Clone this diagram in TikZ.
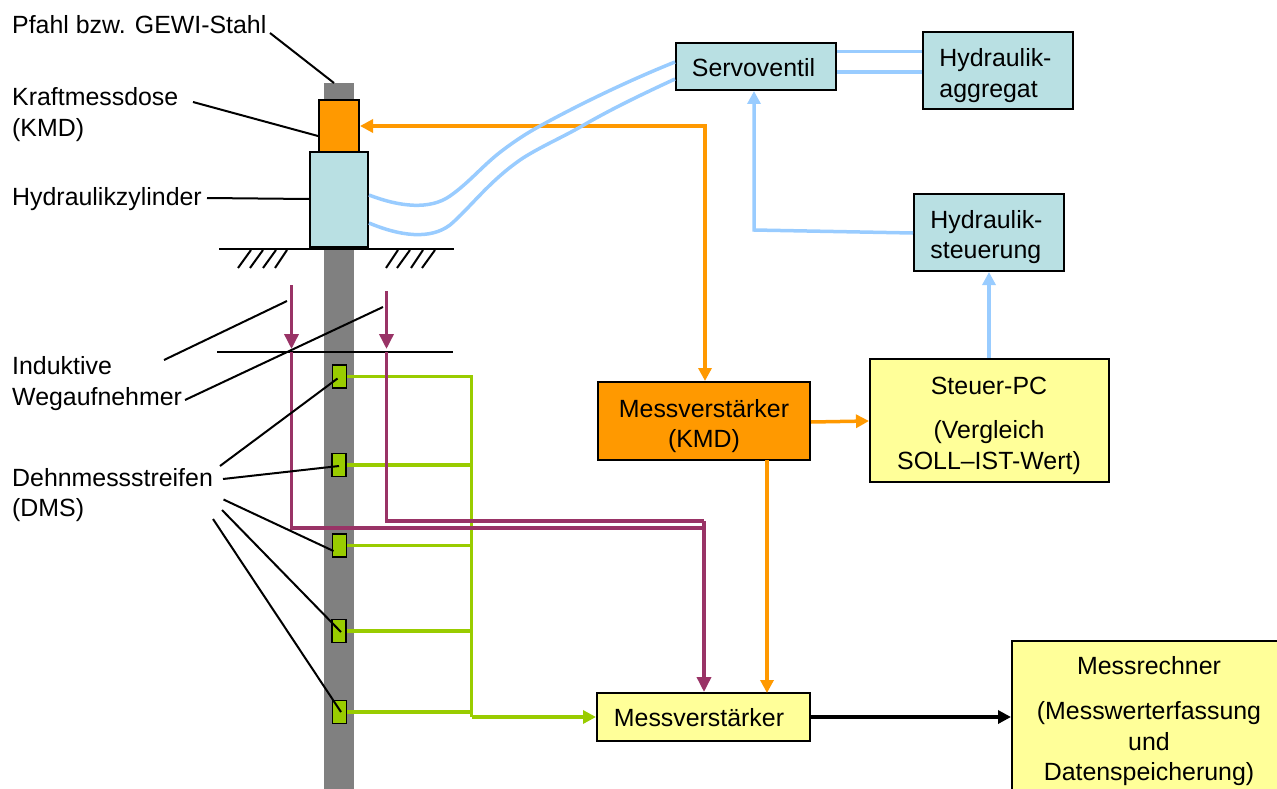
\documentclass[tikz,border=0pt]{standalone}
\usepackage{fontspec}
\setmainfont{Liberation Sans}
\usetikzlibrary{arrows.meta}
\definecolor{pile}{HTML}{808080}
\definecolor{orangeC}{HTML}{FF9900}
\definecolor{tealC}{HTML}{B9E0E3}
\definecolor{yellowC}{HTML}{FFFF99}
\definecolor{greenC}{HTML}{99CC00}
\definecolor{purpleC}{HTML}{993366}
\definecolor{blueC}{HTML}{99CCFF}
\tikzset{
  x=1pt,y=-1pt,
  txt/.style={font=\fontsize{24.9}{30.8}\selectfont,text=black,inner sep=0pt},
  lab/.style={txt,anchor=west,align=left},
  ctxt/.style={txt,align=center},
  ltxt/.style={txt,align=left},
  rbox/.style={draw=black,line width=2pt,inner sep=0pt,anchor=north west},
  tealbox/.style={rbox,fill=tealC},
  yellowbox/.style={rbox,fill=yellowC},
  orangebox/.style={rbox,fill=orangeC},
  gauge/.style={draw=black,line width=1.8pt,fill=greenC,inner sep=0pt,minimum width=14pt,minimum height=23pt},
  leader/.style={draw=black,line width=2pt},
  oline/.style={draw=orangeC,line width=3.5pt},
  gline/.style={draw=greenC,line width=3.5pt},
  pline/.style={draw=purpleC,line width=3.5pt},
  bline/.style={draw=blueC,line width=3.5pt},
  tip/.style={-{Triangle[length=13pt,width=13pt]}},
  tips/.style={{Triangle[length=13pt,width=13pt]}-{Triangle[length=13pt,width=13pt]}},
  ptip/.style={-{Triangle[length=15pt,width=14pt]}},
}
\begin{document}
\begin{tikzpicture}
\useasboundingbox (0,0) rectangle (1277,789);
% pile
\node[fill=pile,inner sep=0pt,anchor=north west,minimum width=30pt,minimum height=706pt] (pfahl) at (324,83) {};
% ground lines
\coordinate (g1a) at (219,248.5); \coordinate (g1b) at (454,248.5);
\coordinate (g2a) at (217,351.5); \coordinate (g2b) at (453,351.5);
\draw[leader] (g2a) -- (g2b);
% purple wiring points
\coordinate (pl1) at (291.5,285); \coordinate (pl2) at (291.5,349);
\coordinate (pl3) at (291.5,352); \coordinate (pl4) at (291.5,528);
\coordinate (pr1) at (386.5,291); \coordinate (pr2) at (386.5,349);
\coordinate (pr3) at (386.5,352); \coordinate (pr4) at (386.5,521);
\coordinate (pc1) at (704,521); \coordinate (pc2) at (704,528);
% boxes
\node[gauge] (d1) at (339.5,376.5) {};
\node[gauge] (d2) at (339,465) {};
\node[gauge] (d3) at (339.5,545.5) {};
\node[gauge] (d4) at (339,631) {};
\node[gauge] (d5) at (339.5,712) {};
\node[orangebox,minimum width=40pt,minimum height=52pt] (kmd) at (318,99) {};
\node[tealbox,minimum width=58pt,minimum height=95pt] (zyl) at (309,151) {};
\node[tealbox,minimum width=160pt,minimum height=47pt] (servo) at (675,42) {};
\node[tealbox,minimum width=150pt,minimum height=77pt] (aggr) at (922,31) {};
\node[tealbox,minimum width=150pt,minimum height=77pt] (steu) at (913,193) {};
\node[yellowbox,minimum width=239pt,minimum height=123pt] (pc) at (869,358) {};
\node[orangebox,minimum width=212pt,minimum height=78pt] (mvk) at (597,381) {};
\node[yellowbox,minimum width=213pt,minimum height=48pt] (mv) at (596,692) {};
\node[yellowbox,minimum width=276pt,minimum height=160pt] (mr) at (1011,640) {};
% box texts
\node[ctxt] (servoT) at (753.5,67.5) {Servoventil};
\node[ltxt] (aggrT) at (995.5,75.5) {Hydraulik-\\aggregat};
\node[ltxt] (steuT) at (986.5,237) {Hydraulik-\\steuerung};
\node[ctxt] (pcT) at (989,425.5) {Steuer-PC\\[13.5pt](Vergleich\\SOLL--IST-Wert)};
\node[ctxt] (mvkT) at (704,426) {Messverstärker\\(KMD)};
\node[ctxt] (mvT) at (699,718) {Messverstärker};
\node[ctxt] (mrT) at (1149,721.5) {Messrechner\\[13.5pt](Messwerterfassung\\und\\Datenspeicherung)};
% ground line and hatching
\draw[leader] (g1a) -- (g1b);
\foreach \xa/\xb in {251/238,263/250,276/263,287/275,398/386,410/397,423/411,435/422}
  \draw[leader] (\xa,250) -- (\xb,268);
% labels
\node[lab] (tp) at (12,25) {Pfahl bzw. GEWI-Stahl};
\node[lab] (tk) at (12,114.5) {Kraftmessdose\\(KMD)};
\node[lab] (th) at (12,199.5) {Hydraulikzylinder};
\node[lab] (ti) at (12,383.5) {Induktive\\Wegaufnehmer};
\node[lab] (td) at (12,495) {Dehnmessstreifen\\(DMS)};
% green
\coordinate (gtop) at (471.5,376.5);
\coordinate (gbot) at (471.5,717);
\draw[gline] (d1.east) -- (gtop) -- (gbot);
\draw[gline] (d2.east) -- (gtop |- d2.east);
\draw[gline] (d3.east) -- (gtop |- d3.east);
\draw[gline] (d4.east) -- (gtop |- d4.east);
\draw[gline] (d5.east) -- (gtop |- d5.east);
\draw[gline,tip] (gbot) -- (gbot -| mv.west);
% purple
\draw[pline,ptip] (pl1) -- (pl2);
\draw[pline,ptip] (pr1) -- (pr2);
\draw[pline] (pl3) -- (pl4) -- (pc2);
\draw[pline] (pr3) -- (pr4) -- (pc1);
\draw[pline,ptip] (pc1) -- (pc1 |- mv.north);
% orange
\coordinate (oc) at (705,126);
\draw[oline,tips] (kmd.east |- oc) -- (oc) -- (oc |- mvk.north);
\draw[oline,tip] (mvk.east |- 0,422) -- (pc.west |- 0,421);
\draw[oline,tip] (767,460) -- (767,693);
% black
\draw[line width=3.5pt,tip] (mv.east |- 0,717) -- (mr.west |- 0,717);
% blue
\draw[bline] (zyl.east |- 0,195) .. controls (400,207) and (430,210) .. (450,196) .. controls (470,182) and (483,165) .. (503,150) .. controls (515,141) and (527,133) .. (540,126) .. controls (580,104) and (630,80) .. (servo.west |- 0,62);
\draw[bline] (zyl.east |- 0,223) .. controls (400,236) and (430,240) .. (450,225) .. controls (470,208) and (490,180) .. (523,158) .. controls (542,146) and (563,137) .. (582,126) .. controls (615,107) and (645,93) .. (servo.west |- 0,79);
\draw[bline] (servo.east |- 0,51.5) -- (aggr.west |- 0,51.5);
\draw[bline] (servo.east |- 0,72) -- (aggr.west |- 0,72);
\coordinate (bc) at (754,230);
\draw[bline,tip] (steu.west |- 0,233) -- (bc) -- (bc |- servo.south);
\draw[bline,tip] (pc.north -| 989,0) -- (989,0 |- steu.south);
% leaders
\coordinate (l1) at (270,33); \coordinate (l2) at (193,102); \coordinate (l3) at (207,198);
\coordinate (l4) at (164,360); \coordinate (l4b) at (287,301);
\coordinate (l5) at (185,400); \coordinate (l5b) at (383,307);
\coordinate (l6) at (220,466); \coordinate (l7) at (223,479); \coordinate (l8) at (223.5,499.5);
\coordinate (l9) at (222,510); \coordinate (l10) at (213,519);
\coordinate (e1) at (337.5,378.5); \coordinate (e2) at (339,466); \coordinate (e3) at (333.5,551);
\coordinate (e4) at (341,632); \coordinate (e5) at (341,712);
\draw[leader] (l1) -- ([xshift=10pt]pfahl.north west);
\draw[leader] (l2) -- (kmd.west |- 0,136);
\draw[leader] (l3) -- (zyl.west |- 0,199);
\draw[leader] (l4) -- (l4b);
\draw[leader] (l5) -- (l5b);
\draw[leader] (l6) -- (e1);
\draw[leader] (l7) -- (e2);
\draw[leader] (l8) -- (e3);
\draw[leader] (l9) -- (e4);
\draw[leader] (l10) -- (e5);
\end{tikzpicture}
\end{document}
